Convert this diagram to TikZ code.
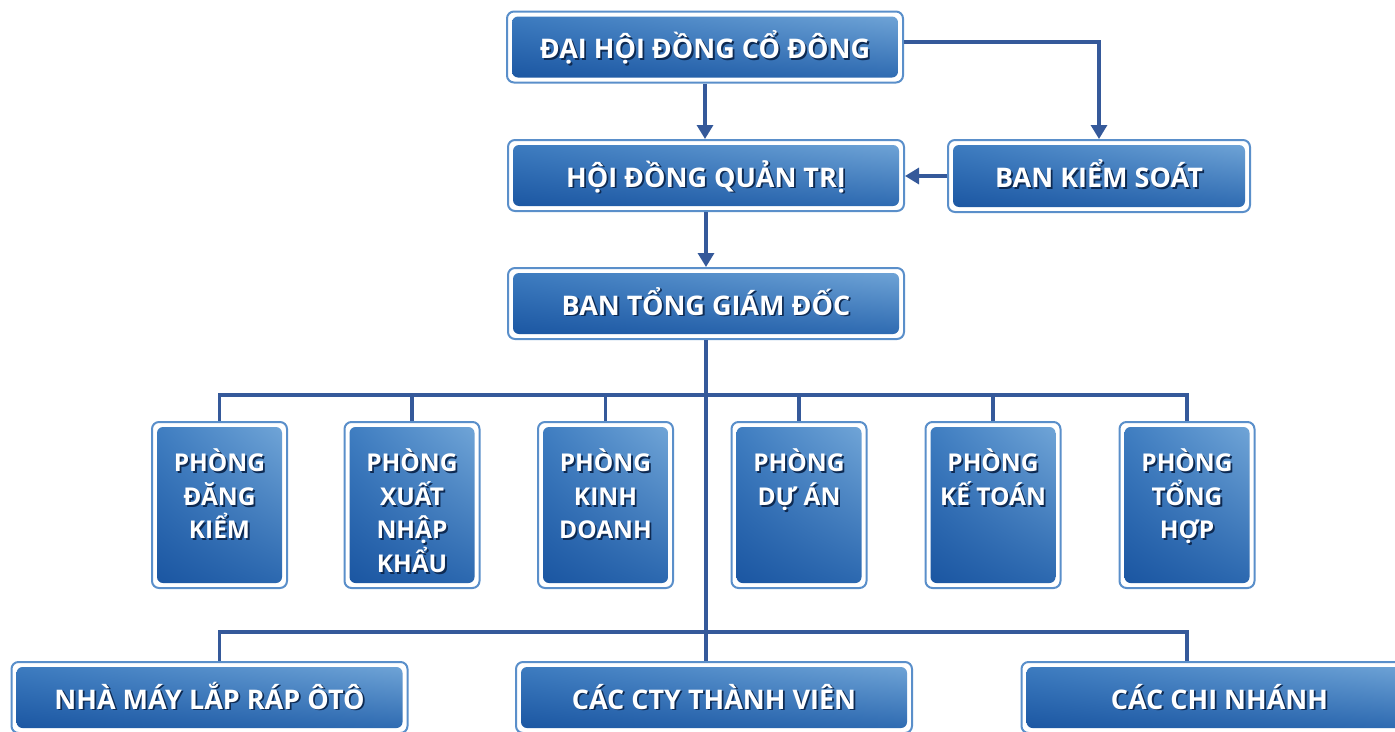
\documentclass[tikz,border=0pt]{standalone}
\usepackage{fontspec}
\setmainfont{Open Sans}
\usetikzlibrary{arrows.meta,calc,shadings}
\definecolor{lineblue}{HTML}{35599A}
\definecolor{frameblue}{HTML}{5A8FCA}
\definecolor{cul}{HTML}{3E7DC1}
\definecolor{cur}{HTML}{74A8D9}
\definecolor{cll}{HTML}{1954A0}
\definecolor{clr}{HTML}{2A67AF}
\definecolor{shadowc}{HTML}{0E2A52}
\newcommand{\shtxt}[1]{\makebox[0pt][l]{\raisebox{-1.8pt}{\hspace{1.8pt}\textcolor{shadowc}{#1}}}#1}
\newcommand{\smalltext}[1]{\parbox[c][150pt][t]{128pt}{\centering\vspace*{19pt}#1}}
\tikzset{
  box/.style={rounded corners=7pt, draw=frameblue, line width=2pt, fill=white,
    text=white, inner sep=0pt, font=\bfseries\fontsize{27}{30}\selectfont,
    path picture={\shade[rounded corners=6pt, upper left=cul, upper right=cur,
      lower left=cll, lower right=clr]
      ($(path picture bounding box.south west)+(5pt,5pt)$) rectangle
      ($(path picture bounding box.north east)+(-5pt,-5pt)$);}},
  capc/.style={text height=23pt, text depth=0pt},
  wide/.style={box, capc, minimum width=396pt, minimum height=71pt},
  small/.style={box, minimum width=135pt, minimum height=166pt,
    font=\bfseries\fontsize{24.5}{33.5}\selectfont},
  conn/.style={draw=lineblue, line width=3.2pt},
  arr/.style={-{Triangle[width=16pt,length=14pt]}}
}
\begin{document}
\begin{tikzpicture}[x=1pt,y=-1pt]
\useasboundingbox (0,0) rectangle (1395,731);
\clip (0,0) rectangle (1395,731);
% top level
\node[wide] (dh) at (705,47) {\shtxt{ĐẠI HỘI ĐỒNG CỔ ĐÔNG}};
\node[wide] (hd) at (706,175.5) {\shtxt{HỘI ĐỒNG QUẢN TRỊ}};
\node[box, capc, minimum width=302pt, minimum height=72pt] (bk) at (1099,176) {\shtxt{BAN KIỂM SOÁT}};
\node[wide] (bt) at (706,303.5) {\shtxt{BAN TỔNG GIÁM ĐỐC}};
% departments
\node[small] (p1) at (219.5,505) {\smalltext{\shtxt{PHÒNG}\\\shtxt{ĐĂNG}\\\shtxt{KIỂM}}};
\node[small] (p2) at (412,505) {\smalltext{\shtxt{PHÒNG}\\\shtxt{XUẤT}\\\shtxt{NHẬP}\\\shtxt{KHẨU}}};
\node[small] (p3) at (605.5,505) {\smalltext{\shtxt{PHÒNG}\\\shtxt{KINH}\\\shtxt{DOANH}}};
\node[small] (p4) at (799,505) {\smalltext{\shtxt{PHÒNG}\\\shtxt{DỰ ÁN}}};
\node[small] (p5) at (993,505) {\smalltext{\shtxt{PHÒNG}\\\shtxt{KẾ TOÁN}}};
\node[small] (p6) at (1187,505) {\smalltext{\shtxt{PHÒNG}\\\shtxt{TỔNG}\\\shtxt{HỢP}}};
% bottom
\node[wide] (nm) at (209.5,697.5) {\shtxt{NHÀ MÁY LẮP RÁP ÔTÔ}};
\node[wide] (ct) at (714,697.5) {\shtxt{CÁC CTY THÀNH VIÊN}};
\node[wide] (cn) at (1219.5,697.5) {\shtxt{CÁC CHI NHÁNH}};
% connectors
\coordinate (bus1) at (706,395);
\coordinate (bus2) at (706,632);
\draw[conn,arr] (dh.south) -- (dh.south |- hd.north);
\draw[conn,arr] (hd.south) -- (hd.south |- bt.north);
\draw[conn,arr] ([yshift=5pt]dh.east) -| (bk.north);
\draw[conn,arr] (bk.west) -- (hd.east |- bk.west);
\draw[conn] (bt.south) -- (bus2);
\draw[conn] (p1.north) |- (bus1) -| (p6.north);
\foreach \p in {p2,p3,p4,p5} \draw[conn] (\p.north) -- (\p.north |- bus1);
\draw[conn] (nm.north -| p1.north) |- (bus2) -| (cn.north -| p6.north);
\draw[conn] (bus2) -- (bus2 |- ct.north);
\end{tikzpicture}
\end{document}
